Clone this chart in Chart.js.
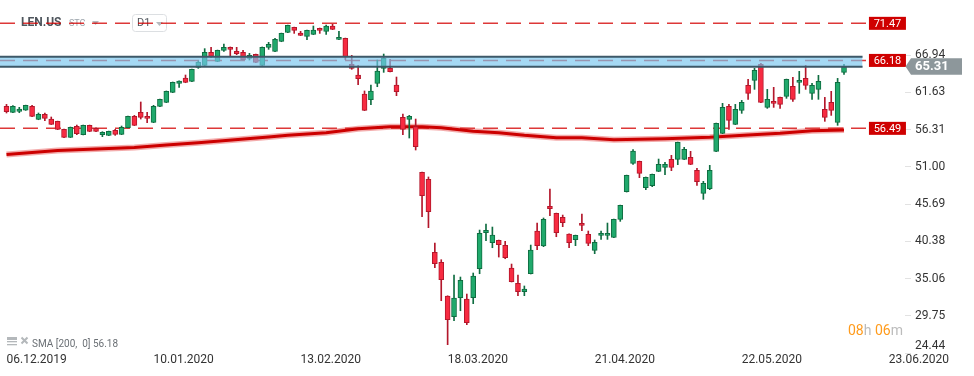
<!DOCTYPE html>
<html>
<head>
<meta charset="utf-8">
<title>LEN.US D1</title>
<script src="https://cdn.jsdelivr.net/npm/chart.js@4.4.1/dist/chart.umd.min.js"></script>
<style>
    html, body { margin: 0; padding: 0; background: #fff; }
    canvas { display: block; }
</style>
</head>
<body>
<canvas id="GraficoLen" width="974" height="376"></canvas>
<script>
// candles D1 (index 0 = 06.12.2019)
var opens = [
    59.63, 58.77, 58.91, 59.10, 59.63, 57.77, 58.49, 57.82, 57.49, 56.35,
    55.21, 56.77, 55.59, 56.92, 56.49, 55.59, 55.49, 56.20, 55.63, 56.59,
    58.20, 58.77, 58.20, 57.35, 59.63, 60.20, 61.63, 62.91, 63.67, 63.19,
    65.19, 65.48, 67.33, 66.05, 67.62, 68.05, 67.47, 67.33, 66.48, 67.05,
    65.48, 68.05, 67.47, 68.90, 70.19, 70.90, 70.09, 69.62, 69.90, 70.76,
    70.33, 71.09, 69.19, 69.33, 65.62, 64.10, 61.39, 60.58, 62.91, 65.05,
    65.10, 62.67, 58.06, 57.77, 56.73, 50.21, 49.21, 38.80, 37.37, 32.57,
    29.62, 32.33, 32.14, 32.33, 36.47, 41.60, 40.17, 40.51, 39.80, 36.56,
    34.38, 33.19, 35.75, 41.84, 39.70, 45.36, 44.36, 43.79, 41.41, 40.60,
    42.94, 41.37, 39.08, 41.22, 41.22, 40.94, 43.51, 47.45, 51.50, 51.78,
    48.02, 48.31, 50.35, 50.92, 52.07, 52.07, 52.07, 52.35, 50.50, 47.22,
    47.88, 53.21, 55.77, 59.63, 57.06, 59.06, 62.62, 63.34, 65.62, 59.48,
    60.34, 60.91, 61.05, 62.48, 63.05, 63.62, 61.48, 62.05, 59.20, 60.20,
    57.34, 64.48
];
var highs = [
    59.91, 59.72, 59.49, 59.80, 59.77, 58.68, 58.68, 58.11, 57.52, 56.38,
    56.68, 56.96, 56.96, 56.96, 56.55, 56.01, 56.10, 56.35, 56.82, 58.25,
    58.34, 60.25, 58.77, 59.77, 60.68, 61.82, 63.10, 63.28, 64.10, 64.95,
    66.10, 67.86, 68.05, 67.66, 68.52, 68.10, 68.05, 67.62, 67.19, 67.10,
    68.10, 68.76, 69.33, 70.08, 71.22, 70.93, 70.33, 70.50, 71.09, 70.80,
    71.23, 71.33, 70.33, 69.37, 66.90, 65.48, 61.82, 62.67, 66.24, 67.09,
    66.33, 63.81, 58.53, 58.34, 57.82, 50.25, 49.55, 40.13, 37.75, 32.60,
    35.56, 35.28, 32.85, 35.85, 41.98, 42.84, 42.41, 40.55, 40.37, 37.13,
    35.56, 34.00, 39.84, 42.98, 43.70, 47.83, 44.40, 44.12, 41.45, 41.26,
    44.27, 41.84, 40.56, 41.84, 42.98, 43.55, 45.54, 49.82, 53.45, 51.82,
    49.55, 49.97, 52.11, 51.64, 52.64, 54.53, 53.78, 53.21, 50.78, 48.93,
    51.21, 57.25, 60.06, 59.91, 59.91, 60.48, 63.48, 65.05, 65.76, 62.05,
    62.34, 60.95, 63.52, 63.77, 64.62, 65.48, 62.91, 64.05, 60.91, 61.77,
    63.62, 65.62
];
var lows = [
    58.68, 58.72, 58.72, 59.05, 58.15, 57.72, 57.58, 57.03, 56.30, 55.15,
    55.18, 55.59, 55.55, 56.02, 56.00, 55.30, 55.45, 55.49, 55.59, 56.55,
    56.88, 57.82, 57.30, 57.30, 59.58, 60.15, 61.58, 62.34, 63.00, 63.15,
    65.05, 65.44, 66.62, 66.00, 67.47, 66.86, 67.00, 66.25, 66.24, 65.86,
    65.44, 67.76, 67.44, 68.85, 70.14, 70.04, 69.72, 69.14, 69.86, 70.04,
    69.90, 70.57, 69.15, 66.29, 64.91, 62.72, 59.02, 59.87, 62.43, 64.48,
    64.53, 61.15, 55.59, 55.11, 53.40, 43.89, 42.32, 36.61, 31.90, 25.63,
    29.05, 30.47, 28.48, 31.48, 35.75, 40.46, 39.46, 38.13, 37.89, 34.57,
    32.62, 32.62, 35.71, 39.18, 39.61, 44.03, 41.03, 42.46, 39.46, 39.75,
    41.89, 39.75, 38.61, 40.65, 40.65, 40.90, 43.22, 47.40, 51.35, 49.45,
    47.74, 48.17, 50.31, 49.88, 50.45, 51.31, 52.03, 51.31, 48.36, 46.36,
    47.74, 53.17, 55.73, 56.35, 57.02, 58.63, 60.63, 62.05, 60.15, 59.34,
    59.48, 59.34, 60.77, 60.34, 61.48, 62.05, 60.63, 60.63, 57.49, 58.34,
    56.92, 64.19
];
var closes = [
    58.87, 59.63, 59.25, 59.77, 58.20, 58.49, 57.92, 57.06, 56.35, 55.21,
    56.63, 55.73, 56.92, 56.06, 56.06, 55.92, 56.06, 55.63, 56.63, 58.20,
    56.92, 58.06, 57.92, 59.63, 60.63, 61.77, 63.05, 63.24, 63.05, 64.91,
    65.91, 67.33, 66.76, 67.62, 68.05, 67.76, 67.14, 66.29, 66.90, 65.91,
    68.05, 68.47, 69.19, 70.04, 71.18, 70.47, 69.76, 70.47, 70.52, 70.47,
    71.09, 70.61, 69.47, 66.71, 65.05, 63.58, 59.06, 61.82, 64.67, 66.48,
    64.57, 61.72, 56.35, 58.20, 53.87, 46.88, 44.60, 37.18, 34.90, 29.19,
    32.28, 34.80, 28.76, 35.42, 41.51, 41.94, 41.27, 39.89, 38.04, 34.61,
    33.19, 33.57, 39.13, 39.75, 43.51, 45.03, 41.60, 43.03, 40.17, 41.22,
    42.65, 40.08, 40.22, 41.51, 41.51, 43.51, 45.50, 49.78, 53.26, 50.07,
    49.50, 49.93, 51.35, 51.35, 50.92, 54.49, 53.49, 51.35, 48.88, 48.64,
    50.50, 57.20, 59.48, 57.63, 59.20, 60.20, 61.48, 64.76, 60.20, 60.63,
    60.06, 59.91, 63.48, 60.63, 63.34, 62.62, 62.62, 63.19, 58.06, 59.06,
    63.05, 65.31
];

// SMA 200, read at some candles
var smaIndex  = [0, 8, 20, 25, 30, 41, 44, 50, 55, 60, 65, 68, 73, 77, 81, 86, 90, 95, 103, 110, 116, 121, 126, 131];
var smaValues = [52.76, 53.33, 53.75, 54.11, 54.44, 55.25, 55.50, 55.87, 56.44, 56.72, 56.72, 56.58, 56.07, 55.87,
                 55.50, 55.15, 55.15, 54.87, 55.01, 55.21, 55.54, 55.78, 56.15, 56.25];

// horizontal levels and the zone
var levels = [71.47, 66.18, 56.49];
var zoneTop = 66.70;
var zoneBottom = 65.26;

// axes
var dateTickIndex  = [0, 23, 46, 69, 92, 115, 138];
var dateTickLabels = ['06.12.2019', '10.01.2020', '13.02.2020', '18.03.2020', '21.04.2020', '22.05.2020', '23.06.2020'];
var priceTicks = ['24.44', '29.75', '35.06', '40.38', '45.69', '51.00', '56.31', '61.63', '66.94'];

var xMin = -1.017, xMax = 140.54;
var yMin = 24.44, yMax = 74.80;
var levelEnd = 134.9;
var zoneEnd = 133.9;

var green = '#20a96c', greenDark = '#0f6d41';
var red = '#f72b41', redDark = '#b3172b';

function subiu(i) {
    return closes[i] >= opens[i];
}

var candleIdx = opens.map(function (v, i) { return i; });

var wicks = candleIdx.map(function (i) { return { x: i, y: [lows[i], highs[i]] }; });
var bodies = candleIdx.map(function (i) { return { x: i, y: [opens[i], closes[i]] }; });
var smaPoints = smaIndex.map(function (v, k) { return { x: v, y: smaValues[k] }; });

function levelLine(v) {
    return {
        type: 'line',
        data: [{ x: xMin, y: v }, { x: levelEnd, y: v }],
        borderColor: 'rgba(212, 0, 0, 0.78)',
        borderWidth: 1.5,
        borderDash: [15, 8],
        pointRadius: 0,
        fill: false,
        order: 6
    };
}

function semPadding(s) {
    s.paddingLeft = 0;
    s.paddingRight = 0;
    s.paddingTop = 0;
    s.paddingBottom = 0;
}

function tri(c, x, y, cor) {
    c.fillStyle = cor;
    c.beginPath();
    c.moveTo(x, y);
    c.lineTo(x + 7, y);
    c.lineTo(x + 3.5, y + 4);
    c.closePath();
    c.fill();
}

var extras = {
    id: 'extras',
    beforeDatasetsDraw: function (chart) {
        var c = chart.ctx;
        c.save();
        c.textBaseline = 'middle';
        c.textAlign = 'left';
        c.font = 'bold 12px Roboto';
        c.fillStyle = '#4f565d';
        c.fillText('LEN.US', 21, 23);
        c.font = '9px Roboto';
        c.fillStyle = '#9ea6ad';
        c.fillText('STC', 69, 24);
        tri(c, 92, 21, '#b5babf');

        c.strokeStyle = '#dcdfe2';
        c.lineWidth = 1;
        c.beginPath();
        c.roundRect(132.5, 14.5, 34, 17, 3);
        c.stroke();
        c.font = '11px Roboto';
        c.fillStyle = '#555b61';
        c.fillText('D1', 137, 23.5);
        tri(c, 156, 22, '#b5babf');
        c.restore();
    },
    afterDraw: function (chart) {
        var c = chart.ctx;
        var ys = chart.scales.y, xs = chart.scales.x;
        c.save();

        // level tags
        var tagX = xs.getPixelForValue(levelEnd);
        c.font = '11px Roboto';
        c.textAlign = 'center';
        c.textBaseline = 'middle';
        levels.forEach(function (v) {
            var py = ys.getPixelForValue(v);
            c.fillStyle = '#cf0000';
            c.fillRect(tagX, py - 6.5, 37, 13);
            c.fillStyle = '#fff';
            c.fillText(v.toFixed(2), tagX + 18.5, py + 0.5);
        });

        // current price tag
        var last = closes[closes.length - 1];
        var py = ys.getPixelForValue(last);
        var x0 = chart.chartArea.right;
        c.fillStyle = '#8d979b';
        c.beginPath();
        c.moveTo(x0 + 0.5, py);
        c.lineTo(x0 + 6, py - 8.3);
        c.lineTo(x0 + 57, py - 8.3);
        c.lineTo(x0 + 57, py + 8.3);
        c.lineTo(x0 + 6, py + 8.3);
        c.closePath();
        c.fill();
        c.fillStyle = '#fff';
        c.font = 'bold 13px Roboto';
        c.textAlign = 'left';
        c.fillText(last.toFixed(2), x0 + 10, py + 0.5);

        // indicator legend
        c.fillStyle = '#b4b8bb';
        c.fillRect(7, 337, 10, 3);
        c.fillRect(7, 341, 10, 1.3);
        c.fillRect(7, 344, 10, 1.3);
        c.strokeStyle = '#b4b8bb';
        c.lineWidth = 2;
        c.beginPath();
        c.moveTo(21.5, 337.5); c.lineTo(27.5, 343.5);
        c.moveTo(27.5, 337.5); c.lineTo(21.5, 343.5);
        c.stroke();
        c.font = '10px Roboto';
        c.fillStyle = '#6b7075';
        c.fillText('SMA [200,  0] 56.18', 32, 344);

        // countdown
        var tx = 848;
        var partes = [['08', '#ff9b1c'], ['h ', '#bcbcbc'], ['06', '#ff9b1c'], ['m', '#bcbcbc']];
        c.font = '14px Roboto';
        partes.forEach(function (p) {
            c.fillStyle = p[1];
            c.fillText(p[0], tx, 331);
            tx += c.measureText(p[0]).width;
        });
        c.restore();
    }
};

Chart.defaults.font.family = 'Roboto';

var ctx = document.getElementById('GraficoLen').getContext('2d');
var grafico = new Chart(ctx, {
    type: 'bar',
    data: {
        datasets: [
            {
                label: 'zone top',
                type: 'line',
                data: [{ x: xMin, y: zoneTop }, { x: zoneEnd, y: zoneTop }],
                borderColor: '#3d5868',
                borderWidth: 2,
                pointRadius: 0,
                fill: false,
                order: 0
            },
            {
                label: 'zone bottom',
                type: 'line',
                data: [{ x: xMin, y: zoneBottom }, { x: zoneEnd, y: zoneBottom }],
                borderColor: '#3d5868',
                borderWidth: 2,
                pointRadius: 0,
                fill: '-1',
                backgroundColor: 'rgba(118, 198, 238, 0.66)',
                order: 0
            },
            {
                label: 'bodies',
                data: bodies,
                grouped: false,
                barThickness: 5,
                borderWidth: 1,
                borderSkipped: false,
                backgroundColor: function (c) { return subiu(c.dataIndex) ? green : red; },
                borderColor: function (c) { return subiu(c.dataIndex) ? greenDark : redDark; },
                order: 1
            },
            {
                label: 'wicks',
                data: wicks,
                grouped: false,
                barThickness: 1,
                borderWidth: 0,
                backgroundColor: function (c) { return subiu(c.dataIndex) ? greenDark : redDark; },
                order: 2
            },
            {
                label: 'SMA',
                type: 'line',
                data: smaPoints,
                borderColor: '#cc0000',
                borderWidth: 3,
                pointRadius: 0,
                fill: false,
                order: 3
            },
            {
                label: 'SMA halo',
                type: 'line',
                data: smaPoints,
                borderColor: 'rgba(228, 70, 70, 0.45)',
                borderWidth: 6,
                pointRadius: 0,
                fill: false,
                order: 4
            },
            levelLine(levels[0]),
            levelLine(levels[1]),
            levelLine(levels[2])
        ]
    },
    options: {
        responsive: false,
        animation: false,
        layout: { padding: 0 },
        plugins: {
            legend: { display: false },
            tooltip: { enabled: false }
        },
        scales: {
            x: {
                type: 'linear',
                offset: false,
                min: xMin,
                max: xMax,
                afterBuildTicks: function (s) {
                    s.ticks = dateTickIndex.map(function (v) { return { value: v }; });
                },
                afterFit: function (s) {
                    s.height = 23;
                    semPadding(s);
                },
                ticks: {
                    callback: function (v) { return dateTickLabels[dateTickIndex.indexOf(v)]; },
                    align: 'start',
                    padding: 0,
                    autoSkip: false,
                    maxRotation: 0,
                    color: '#333',
                    font: { size: 12 }
                },
                grid: { display: false, drawTicks: false, offset: false },
                border: { display: false }
            },
            y: {
                type: 'linear',
                position: 'right',
                min: yMin,
                max: yMax,
                afterBuildTicks: function (s) {
                    s.ticks = priceTicks.map(function (t) { return { value: parseFloat(t) }; });
                },
                afterFit: function (s) {
                    s.width = 69;
                    semPadding(s);
                },
                ticks: {
                    // the bottom label sits a little above its tick, as in the original
                    callback: function (v) {
                        var t = priceTicks.filter(function (p) { return parseFloat(p) === v; })[0];
                        return v === yMin ? [t, ''] : t;
                    },
                    padding: 4,
                    autoSkip: false,
                    color: '#333',
                    font: { size: 12 }
                },
                grid: { drawOnChartArea: false, tickLength: 6, color: '#e2e2e2' },
                border: { display: false }
            }
        }
    },
    plugins: [extras]
});
</script>
</body>
</html>
